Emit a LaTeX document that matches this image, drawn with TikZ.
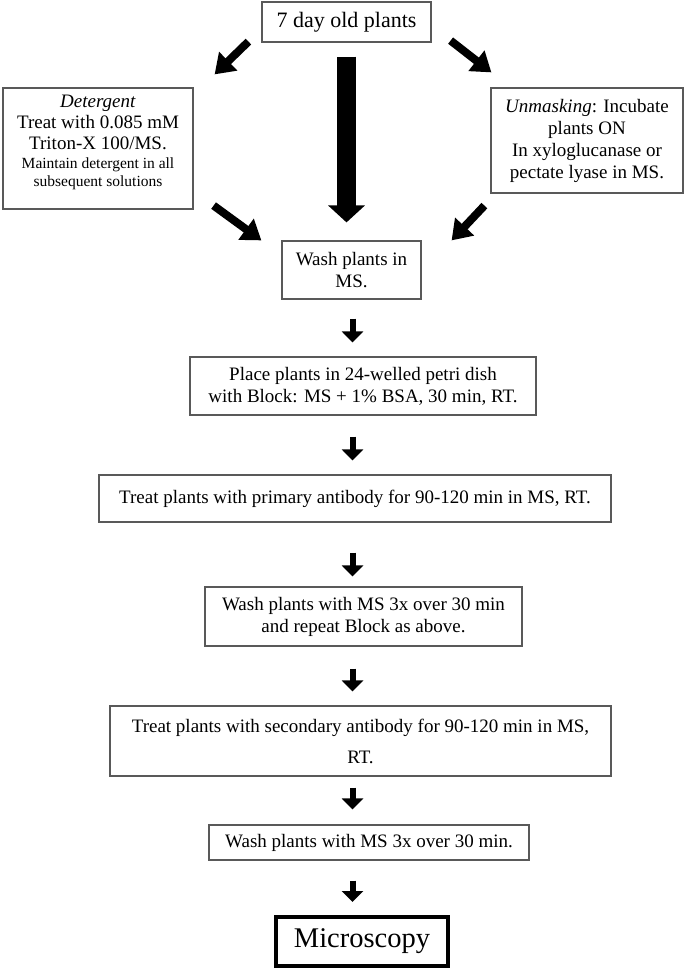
\documentclass[tikz,border=0pt]{standalone}
\usepackage{fontspec}
\setmainfont{Liberation Serif}
\usetikzlibrary{arrows.meta,calc}
\begin{document}
\begin{tikzpicture}[x=1pt,y=-1pt,
  box/.style={draw=black!65, line width=1.2pt, inner sep=0pt, align=center, font=\fontsize{19}{22}\selectfont},
  txt/.style={inner sep=0pt, align=center, font=\fontsize{19}{21}\selectfont},
  sarrow/.style={line width=6pt, -{Triangle[width=21pt,length=11pt]}},
  darrow/.style={line width=8pt, -{Triangle[width=25pt,length=19pt]}},
  barrow/.style={line width=19pt, -{Triangle[width=36pt,length=17pt]}}]
\fill[white] (0,0) rectangle (685,969);
\useasboundingbox (0,0) rectangle (685,969);

\node[box, minimum width=169pt, minimum height=40pt, font=\fontsize{22}{26}\selectfont] (top) at (346.5,22) {7 day old plants};
\node[box, minimum width=190pt, minimum height=121pt] (det) at (98,148.5) {};
\node[txt] (dettext) at ($(det.center)+(0,-6)$)
  {\textit{Detergent}\\Treat with 0.085 mM\\Triton-X 100/MS.\\[-2pt]{\fontsize{15.5}{19}\selectfont Maintain detergent in all}\\[-3pt]{\fontsize{15.5}{19}\selectfont subsequent solutions}};
\node[box, minimum width=192pt, minimum height=105pt] (unm) at (587,140.5)
  {\textit{Unmasking}: Incubate\\plants ON\\In xyloglucanase or\\pectate lyase in MS.};
\node[box, minimum width=139pt, minimum height=58pt] (wash) at (351.5,270) {Wash plants in\\MS.};
\node[box, minimum width=346pt, minimum height=58pt] (place) at (363,386) {Place plants in 24-welled petri dish\\with Block: MS + 1\% BSA, 30 min, RT.};
\node[box, minimum width=512pt, minimum height=47pt] (prim) at (355,498.5) {Treat plants with primary antibody for 90-120 min in MS, RT.};
\node[box, minimum width=317pt, minimum height=59pt] (wash3) at (363.5,616.5) {Wash plants with MS 3x over 30 min\\and repeat Block as above.};
\node[box, minimum width=501pt, minimum height=70pt, font=\fontsize{19}{31}\selectfont] (sec) at (360.5,741) {Treat plants with secondary antibody for 90-120 min in MS,\\RT.};
\node[box, minimum width=320pt, minimum height=35pt] (final) at (369,842.5) {Wash plants with MS 3x over 30 min.};
\node[box, draw=black, line width=4pt, minimum width=172pt, minimum height=49pt, font=\fontsize{28.5}{32}\selectfont] (micro) at (362,941.5) {Microscopy};

\coordinate (ax) at (352.5,0);
\draw[sarrow, shorten <=19pt, shorten >=14pt] (wash.south -| ax) -- (place.north -| ax);
\draw[sarrow, shorten <=21pt, shorten >=14pt] (place.south -| ax) -- (prim.north -| ax);
\draw[sarrow, shorten <=30pt, shorten >=10pt] (prim.south -| ax) -- (wash3.north -| ax);
\draw[sarrow, shorten <=22pt, shorten >=14pt] (wash3.south -| ax) -- (sec.north -| ax);
\draw[sarrow, shorten <=11pt, shorten >=15pt] (sec.south -| ax) -- (final.north -| ax);
\draw[sarrow, shorten <=20pt, shorten >=13pt] (final.south -| ax) -- (micro.north -| ax);

\draw[darrow] ($(top.south west)+(-13,-1)$) -- ($(det.north east)+(21,-13)$);
\draw[darrow] ($(top.south east)+(19,-2)$) -- ($(unm.north west)+(1,-15)$);
\draw[darrow] ($(det.south east)+(20,-4)$) -- ($(wash.north west)+(-20,0)$);
\draw[darrow] ($(unm.south west)+(-6,12)$) -- ($(wash.north east)+(30,0)$);
\draw[barrow, shorten <=14pt, shorten >=18pt] (top.south) -- (top.south |- wash.north);
\end{tikzpicture}
\end{document}
